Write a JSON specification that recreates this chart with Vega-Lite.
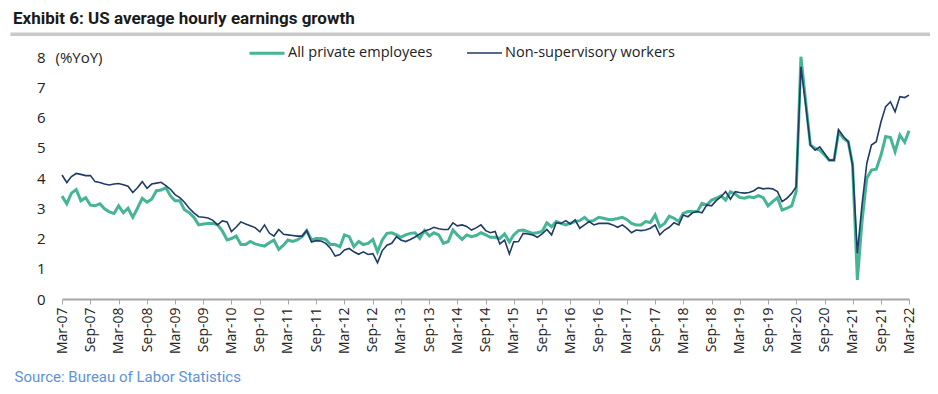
{
  "$schema": "https://vega.github.io/schema/vega-lite/v6.json",
  "width": 847,
  "height": 242,
  "autosize": {"type": "none"},
  "padding": {"left": 62, "top": 57, "right": 29, "bottom": 95},
  "background": "white",
  "config": {"view": {"stroke": null}},
  "title": {
    "text": "Exhibit 6: US average hourly earnings growth",
    "anchor": "start",
    "frame": "group",
    "font": "Roboto",
    "fontSize": 17,
    "fontWeight": "bold",
    "color": "#1a1a1a",
    "dx": -49,
    "offset": 5
  },
  "resolve": {"axis": {"x": "independent", "y": "independent"}},
  "layer": [
    {
      "data": {"values": [{}]},
      "mark": {"type": "rule", "color": "#c9c9c9", "strokeWidth": 3.5, "clip": false},
      "encoding": {
        "x": {"datum": {"year": 2006, "month": 4, "date": 1, "utc": true}, "type": "temporal", "axis": null},
        "x2": {"datum": {"year": 2022, "month": 7, "date": 15, "utc": true}},
        "y": {"datum": 8.75, "type": "quantitative", "axis": null}
      }
    },
    {
      "data": {"values": [
        {"d":"2007-03","ap":3.40,"ns":4.10},{"d":"2007-04","ap":3.15,"ns":3.85},{"d":"2007-05","ap":3.50,"ns":4.05},{"d":"2007-06","ap":3.62,"ns":4.15},{"d":"2007-07","ap":3.25,"ns":4.12},{"d":"2007-08","ap":3.35,"ns":4.08},{"d":"2007-09","ap":3.10,"ns":4.08},{"d":"2007-10","ap":3.08,"ns":3.88},{"d":"2007-11","ap":3.15,"ns":3.85},{"d":"2007-12","ap":2.98,"ns":3.80},
        {"d":"2008-01","ap":2.88,"ns":3.77},{"d":"2008-02","ap":2.83,"ns":3.80},{"d":"2008-03","ap":3.08,"ns":3.82},{"d":"2008-04","ap":2.85,"ns":3.78},{"d":"2008-05","ap":3.00,"ns":3.73},{"d":"2008-06","ap":2.70,"ns":3.52},{"d":"2008-07","ap":3.00,"ns":3.68},{"d":"2008-08","ap":3.33,"ns":3.88},{"d":"2008-09","ap":3.20,"ns":3.66},{"d":"2008-10","ap":3.30,"ns":3.80},{"d":"2008-11","ap":3.58,"ns":3.83},{"d":"2008-12","ap":3.60,"ns":3.86},
        {"d":"2009-01","ap":3.68,"ns":3.75},{"d":"2009-02","ap":3.40,"ns":3.62},{"d":"2009-03","ap":3.25,"ns":3.45},{"d":"2009-04","ap":3.25,"ns":3.35},{"d":"2009-05","ap":2.95,"ns":3.20},{"d":"2009-06","ap":2.85,"ns":3.00},{"d":"2009-07","ap":2.70,"ns":2.85},{"d":"2009-08","ap":2.45,"ns":2.72},{"d":"2009-09","ap":2.48,"ns":2.70},{"d":"2009-10","ap":2.50,"ns":2.68},{"d":"2009-11","ap":2.50,"ns":2.60},{"d":"2009-12","ap":2.45,"ns":2.45},
        {"d":"2010-01","ap":2.25,"ns":2.58},{"d":"2010-02","ap":1.95,"ns":2.55},{"d":"2010-03","ap":2.00,"ns":2.23},{"d":"2010-04","ap":2.08,"ns":2.38},{"d":"2010-05","ap":1.80,"ns":2.55},{"d":"2010-06","ap":1.80,"ns":2.48},{"d":"2010-07","ap":1.90,"ns":2.42},{"d":"2010-08","ap":1.82,"ns":2.36},{"d":"2010-09","ap":1.78,"ns":2.22},{"d":"2010-10","ap":1.75,"ns":2.45},{"d":"2010-11","ap":1.86,"ns":2.18},{"d":"2010-12","ap":1.95,"ns":2.08},
        {"d":"2011-01","ap":1.64,"ns":2.30},{"d":"2011-02","ap":1.78,"ns":2.14},{"d":"2011-03","ap":1.95,"ns":2.12},{"d":"2011-04","ap":1.90,"ns":2.10},{"d":"2011-05","ap":1.95,"ns":2.08},{"d":"2011-06","ap":2.06,"ns":2.08},{"d":"2011-07","ap":2.26,"ns":2.26},{"d":"2011-08","ap":1.95,"ns":1.88},{"d":"2011-09","ap":2.00,"ns":1.93},{"d":"2011-10","ap":2.00,"ns":1.92},{"d":"2011-11","ap":1.97,"ns":1.84},{"d":"2011-12","ap":1.80,"ns":1.68},
        {"d":"2012-01","ap":1.80,"ns":1.42},{"d":"2012-02","ap":1.73,"ns":1.47},{"d":"2012-03","ap":2.12,"ns":1.62},{"d":"2012-04","ap":2.06,"ns":1.67},{"d":"2012-05","ap":1.73,"ns":1.56},{"d":"2012-06","ap":1.90,"ns":1.48},{"d":"2012-07","ap":1.80,"ns":1.56},{"d":"2012-08","ap":1.84,"ns":1.47},{"d":"2012-09","ap":1.97,"ns":1.50},{"d":"2012-10","ap":1.56,"ns":1.20},{"d":"2012-11","ap":1.95,"ns":1.60},{"d":"2012-12","ap":2.17,"ns":1.78},
        {"d":"2013-01","ap":2.19,"ns":1.84},{"d":"2013-02","ap":2.12,"ns":2.06},{"d":"2013-03","ap":2.04,"ns":1.95},{"d":"2013-04","ap":2.12,"ns":1.90},{"d":"2013-05","ap":2.17,"ns":1.97},{"d":"2013-06","ap":2.19,"ns":2.05},{"d":"2013-07","ap":2.00,"ns":2.15},{"d":"2013-08","ap":2.26,"ns":2.25},{"d":"2013-09","ap":2.08,"ns":2.30},{"d":"2013-10","ap":2.19,"ns":2.37},{"d":"2013-11","ap":2.12,"ns":2.32},{"d":"2013-12","ap":1.84,"ns":2.30},
        {"d":"2014-01","ap":1.90,"ns":2.30},{"d":"2014-02","ap":2.28,"ns":2.52},{"d":"2014-03","ap":2.12,"ns":2.42},{"d":"2014-04","ap":1.97,"ns":2.45},{"d":"2014-05","ap":2.12,"ns":2.40},{"d":"2014-06","ap":2.06,"ns":2.28},{"d":"2014-07","ap":2.10,"ns":2.35},{"d":"2014-08","ap":2.19,"ns":2.45},{"d":"2014-09","ap":2.12,"ns":2.26},{"d":"2014-10","ap":2.04,"ns":2.19},{"d":"2014-11","ap":2.04,"ns":2.23},{"d":"2014-12","ap":2.00,"ns":1.82},
        {"d":"2015-01","ap":2.15,"ns":1.95},{"d":"2015-02","ap":1.89,"ns":1.49},{"d":"2015-03","ap":2.12,"ns":1.89},{"d":"2015-04","ap":2.26,"ns":1.90},{"d":"2015-05","ap":2.28,"ns":2.17},{"d":"2015-06","ap":2.23,"ns":2.15},{"d":"2015-07","ap":2.17,"ns":2.12},{"d":"2015-08","ap":2.19,"ns":2.04},{"d":"2015-09","ap":2.23,"ns":2.15},{"d":"2015-10","ap":2.52,"ns":2.30},{"d":"2015-11","ap":2.39,"ns":2.12},{"d":"2015-12","ap":2.56,"ns":2.52},
        {"d":"2016-01","ap":2.50,"ns":2.50},{"d":"2016-02","ap":2.45,"ns":2.59},{"d":"2016-03","ap":2.50,"ns":2.48},{"d":"2016-04","ap":2.56,"ns":2.62},{"d":"2016-05","ap":2.59,"ns":2.34},{"d":"2016-06","ap":2.70,"ns":2.45},{"d":"2016-07","ap":2.56,"ns":2.56},{"d":"2016-08","ap":2.60,"ns":2.45},{"d":"2016-09","ap":2.70,"ns":2.50},{"d":"2016-10","ap":2.67,"ns":2.50},{"d":"2016-11","ap":2.63,"ns":2.50},{"d":"2016-12","ap":2.63,"ns":2.45},
        {"d":"2017-01","ap":2.66,"ns":2.37},{"d":"2017-02","ap":2.70,"ns":2.45},{"d":"2017-03","ap":2.63,"ns":2.34},{"d":"2017-04","ap":2.50,"ns":2.19},{"d":"2017-05","ap":2.45,"ns":2.28},{"d":"2017-06","ap":2.45,"ns":2.26},{"d":"2017-07","ap":2.56,"ns":2.28},{"d":"2017-08","ap":2.53,"ns":2.34},{"d":"2017-09","ap":2.78,"ns":2.45},{"d":"2017-10","ap":2.39,"ns":2.12},{"d":"2017-11","ap":2.50,"ns":2.28},{"d":"2017-12","ap":2.74,"ns":2.37},
        {"d":"2018-01","ap":2.67,"ns":2.52},{"d":"2018-02","ap":2.56,"ns":2.45},{"d":"2018-03","ap":2.83,"ns":2.78},{"d":"2018-04","ap":2.89,"ns":2.72},{"d":"2018-05","ap":2.89,"ns":2.85},{"d":"2018-06","ap":2.89,"ns":2.89},{"d":"2018-07","ap":3.16,"ns":2.85},{"d":"2018-08","ap":3.11,"ns":3.11},{"d":"2018-09","ap":3.27,"ns":3.08},{"d":"2018-10","ap":3.33,"ns":3.25},{"d":"2018-11","ap":3.41,"ns":3.38},{"d":"2018-12","ap":3.27,"ns":3.55},
        {"d":"2019-01","ap":3.55,"ns":3.30},{"d":"2019-02","ap":3.47,"ns":3.55},{"d":"2019-03","ap":3.36,"ns":3.52},{"d":"2019-04","ap":3.33,"ns":3.50},{"d":"2019-05","ap":3.38,"ns":3.52},{"d":"2019-06","ap":3.35,"ns":3.58},{"d":"2019-07","ap":3.42,"ns":3.68},{"d":"2019-08","ap":3.35,"ns":3.64},{"d":"2019-09","ap":3.08,"ns":3.66},{"d":"2019-10","ap":3.22,"ns":3.64},{"d":"2019-11","ap":3.35,"ns":3.55},{"d":"2019-12","ap":2.94,"ns":3.22},
        {"d":"2020-01","ap":3.00,"ns":3.33},{"d":"2020-02","ap":3.08,"ns":3.49},{"d":"2020-03","ap":3.55,"ns":3.71},{"d":"2020-04","ap":8.01,"ns":7.68},{"d":"2020-05","ap":6.55,"ns":6.45},{"d":"2020-06","ap":5.09,"ns":5.09},{"d":"2020-07","ap":4.98,"ns":4.92},{"d":"2020-08","ap":4.92,"ns":5.03},{"d":"2020-09","ap":4.76,"ns":4.81},{"d":"2020-10","ap":4.59,"ns":4.59},{"d":"2020-11","ap":4.59,"ns":4.59},{"d":"2020-12","ap":5.53,"ns":5.59},
        {"d":"2021-01","ap":5.31,"ns":5.37},{"d":"2021-02","ap":5.20,"ns":5.20},{"d":"2021-03","ap":4.45,"ns":4.43},{"d":"2021-04","ap":0.63,"ns":1.51},{"d":"2021-05","ap":2.56,"ns":3.11},{"d":"2021-06","ap":3.99,"ns":4.48},{"d":"2021-07","ap":4.26,"ns":5.09},{"d":"2021-08","ap":4.29,"ns":5.20},{"d":"2021-09","ap":4.76,"ns":5.86},{"d":"2021-10","ap":5.37,"ns":6.36},{"d":"2021-11","ap":5.34,"ns":6.52},{"d":"2021-12","ap":4.87,"ns":6.19},
        {"d":"2022-01","ap":5.42,"ns":6.69},{"d":"2022-02","ap":5.18,"ns":6.66},{"d":"2022-03","ap":5.56,"ns":6.74}
      ]},
      "transform": [{"fold": ["ap", "ns"], "as": ["series", "value"]}],
      "mark": {"type": "line", "clip": false},
      "encoding": {
        "x": {
          "field": "d",
          "type": "temporal",
          "scale": {"type": "utc", "domain": [{"year": 2007, "month": 3, "date": 1, "utc": true}, {"year": 2022, "month": 3, "date": 1, "utc": true}]},
          "axis": {
            "values": [
              {"year":2007,"month":3,"date":1,"utc":true},{"year":2007,"month":9,"date":1,"utc":true},
              {"year":2008,"month":3,"date":1,"utc":true},{"year":2008,"month":9,"date":1,"utc":true},
              {"year":2009,"month":3,"date":1,"utc":true},{"year":2009,"month":9,"date":1,"utc":true},
              {"year":2010,"month":3,"date":1,"utc":true},{"year":2010,"month":9,"date":1,"utc":true},
              {"year":2011,"month":3,"date":1,"utc":true},{"year":2011,"month":9,"date":1,"utc":true},
              {"year":2012,"month":3,"date":1,"utc":true},{"year":2012,"month":9,"date":1,"utc":true},
              {"year":2013,"month":3,"date":1,"utc":true},{"year":2013,"month":9,"date":1,"utc":true},
              {"year":2014,"month":3,"date":1,"utc":true},{"year":2014,"month":9,"date":1,"utc":true},
              {"year":2015,"month":3,"date":1,"utc":true},{"year":2015,"month":9,"date":1,"utc":true},
              {"year":2016,"month":3,"date":1,"utc":true},{"year":2016,"month":9,"date":1,"utc":true},
              {"year":2017,"month":3,"date":1,"utc":true},{"year":2017,"month":9,"date":1,"utc":true},
              {"year":2018,"month":3,"date":1,"utc":true},{"year":2018,"month":9,"date":1,"utc":true},
              {"year":2019,"month":3,"date":1,"utc":true},{"year":2019,"month":9,"date":1,"utc":true},
              {"year":2020,"month":3,"date":1,"utc":true},{"year":2020,"month":9,"date":1,"utc":true},
              {"year":2021,"month":3,"date":1,"utc":true},{"year":2021,"month":9,"date":1,"utc":true},
              {"year":2022,"month":3,"date":1,"utc":true}
            ],
            "labelExpr": "utcFormat(datum.value, '%b-%y')",
            "labelAngle": -90,
            "labelFont": "Open Sans",
            "labelFontSize": 14,
            "labelColor": "#222222",
            "labelPadding": 3,
            "labelOverlap": false,
            "labelSeparation": 0,
            "labelBound": false,
            "labelFlush": false,
            "tickSize": 5,
            "tickColor": "#a6a6a6",
            "domainColor": "#a6a6a6",
            "domainWidth": 2,
            "grid": false,
            "title": "Source: Bureau of Labor Statistics",
            "titleX": -48,
            "titleY": 77,
            "titleAlign": "left",
            "titleBaseline": "middle",
            "titleFont": "Roboto",
            "titleFontSize": 15,
            "titleFontWeight": "normal",
            "titleColor": "#5e92d6"
          }
        },
        "y": {
          "field": "value",
          "type": "quantitative",
          "scale": {"domain": [0, 8], "nice": false},
          "axis": {
            "values": [0, 1, 2, 3, 4, 5, 6, 7, 8],
            "domain": false,
            "ticks": false,
            "grid": false,
            "labelOverlap": false,
            "labelSeparation": 0,
            "labelFlush": false,
            "labelPadding": 17,
            "labelFont": "Open Sans",
            "labelFontSize": 15,
            "labelColor": "#222222",
            "title": "(%YoY)",
            "titleAngle": 0,
            "titleX": -7,
            "titleY": 0,
            "titleAlign": "left",
            "titleBaseline": "middle",
            "titleFont": "Open Sans",
            "titleFontSize": 15,
            "titleFontWeight": "normal",
            "titleColor": "#222222"
          }
        },
        "color": {
          "field": "series",
          "type": "nominal",
          "scale": {"domain": ["ap", "ns"], "range": ["#46b596", "#1f3b66"]},
          "legend": {
            "orient": "none",
            "legendX": 186,
            "legendY": -23,
            "direction": "horizontal",
            "title": null,
            "labelExpr": "datum.label == 'ap' ? 'All private employees' : 'Non-supervisory workers'",
            "labelFont": "Open Sans",
            "labelFontSize": 14.5,
            "labelColor": "#222222",
            "labelLimit": 300,
            "symbolType": "stroke",
            "symbolSize": 1225,
            "columnPadding": 30,
            "labelOffset": 2
          }
        },
        "strokeWidth": {
          "field": "series",
          "type": "nominal",
          "scale": {"domain": ["ap", "ns"], "range": [3, 1.6]},
          "legend": {
            "orient": "none",
            "legendX": 186,
            "legendY": -23,
            "direction": "horizontal",
            "title": null,
            "labelExpr": "datum.label == 'ap' ? 'All private employees' : 'Non-supervisory workers'",
            "labelFont": "Open Sans",
            "labelFontSize": 14.5,
            "labelColor": "#222222",
            "labelLimit": 300,
            "symbolType": "stroke",
            "symbolSize": 1225,
            "columnPadding": 30,
            "labelOffset": 2
          }
        }
      }
    }
  ]
}
